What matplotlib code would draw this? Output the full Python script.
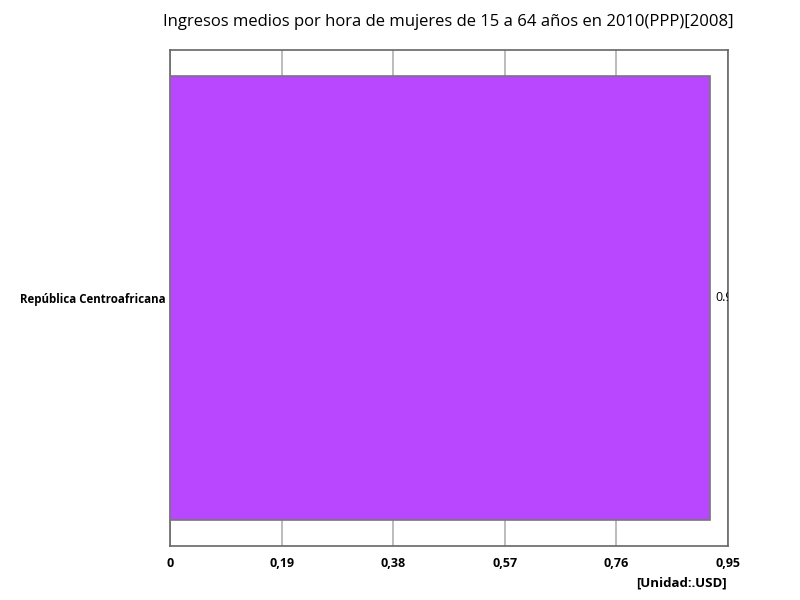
import matplotlib
matplotlib.use("Agg")
import matplotlib.pyplot as plt

categories = ["República Centroafricana"]
values = [0.92]
value_labels = ["0.92"]
ticks = [0, 0.19, 0.38, 0.57, 0.76, 0.95]
tick_labels = ["0", "0,19", "0,38", "0,57", "0,76", "0,95"]

plt.rcParams['font.family'] = ['Open Sans', 'DejaVu Sans']

fig = plt.figure(figsize=(8, 6), dpi=100)
ax = fig.add_axes([0.2125, 0.09, 0.6975, 0.8267])

ax.barh(categories, values, height=0.897, color="#b847ff", edgecolor="#777777", linewidth=1.2, zorder=3)
for i, v in enumerate(values):
    ax.text(v + 0.008, i, value_labels[i], va="center", ha="left", fontsize=9, clip_on=True, zorder=4)

ax.set_xlim(0, 0.95)
ax.set_ylim(-0.5, 0.5)
ax.set_xticks(ticks)
ax.set_xticklabels(tick_labels, fontsize=9, fontweight="bold")
ax.tick_params(axis="x", length=0, pad=8)
ax.tick_params(axis="y", length=0, pad=3)
for lab in ax.get_yticklabels():
    lab.set_fontsize(8.3)
    lab.set_fontweight("bold")
ax.grid(axis="x", color="#b0b0b0", linewidth=1.2, zorder=0)
for s in ax.spines.values():
    s.set_color("#666666")
    s.set_linewidth(1.2)

fig.text(0.561, 0.963, "Ingresos medios por hora de mujeres de 15 a 64 años en 2010(PPP)[2008]",
         ha="center", va="center", fontsize=12)
fig.text(0.909, 0.028, "[Unidad:.USD]", ha="right", va="center", fontsize=9.5, fontweight="bold")

fig.savefig("out.png", dpi=100)
